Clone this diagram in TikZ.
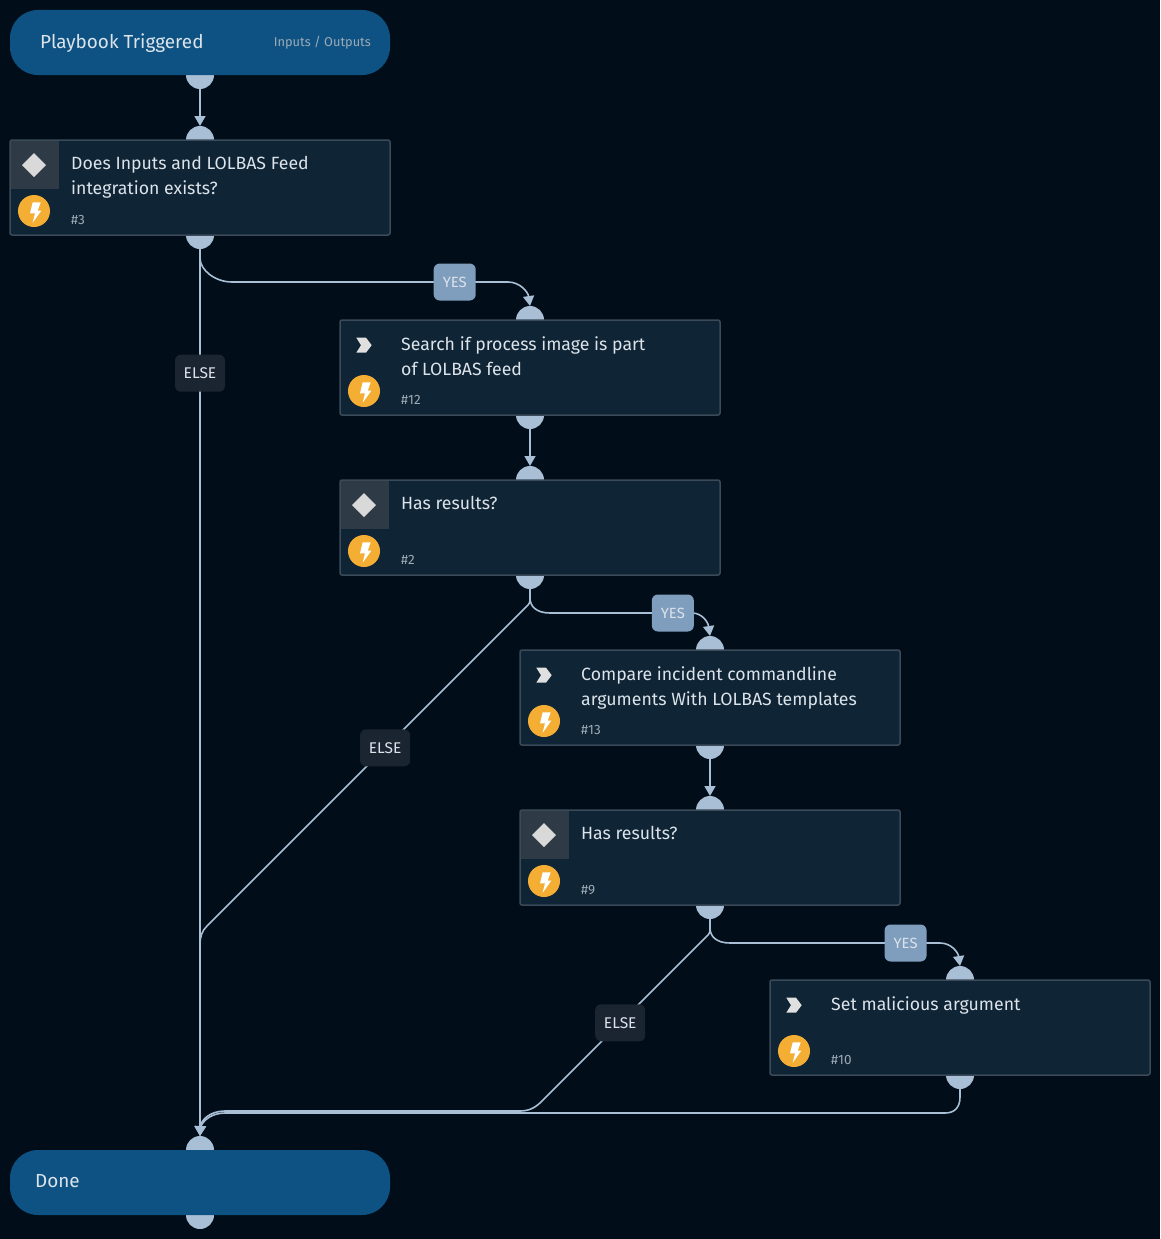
\documentclass[tikz,border=0pt]{standalone}
\usepackage{fontspec}
\setmainfont{Fira Sans}
\usetikzlibrary{arrows.meta, backgrounds}
\definecolor{canvas}{HTML}{010E19}
\definecolor{boxfill}{HTML}{0F2434}
\definecolor{boxedge}{HTML}{3A4A58}
\definecolor{headfill}{HTML}{0D5282}
\definecolor{wire}{HTML}{A9BFD6}
\definecolor{yesfill}{HTML}{7F9DBD}
\definecolor{elsefill}{HTML}{1B2431}
\definecolor{boltfill}{HTML}{F4AE33}
\definecolor{inktext}{HTML}{DCE3EA}
\definecolor{hashtext}{HTML}{9DAAB5}
\tikzstyle{line} = [draw=wire, line width=1.6pt, -{Triangle[width=11pt,length=10pt]}]
\tikzstyle{plainline} = [draw=wire, line width=1.6pt]
\tikzstyle{stepbox} = [draw=boxedge, line width=1.5pt, fill=boxfill, rounded corners=2pt, minimum width=380pt, minimum height=95pt, inner sep=0pt, outer sep=0pt, node distance=100pt]
\tikzstyle{headbox} = [fill=headfill, rounded corners=28pt, minimum width=380pt, minimum height=65pt, inner sep=0pt, outer sep=0pt, node distance=100pt]
\tikzstyle{port} = [circle, fill=wire, minimum size=28pt, inner sep=0pt, outer sep=0pt]
\tikzstyle{steptext} = [anchor=north west, align=left, inner sep=0pt, text=inktext, font=\fontsize{17.7}{25}\selectfont]
\tikzstyle{stepnum} = [anchor=base west, inner sep=0pt, text=hashtext, font=\fontsize{13.5}{15}\selectfont]
\tikzstyle{headtext} = [anchor=west, inner sep=0pt, text=inktext, font=\fontsize{18.9}{24}\selectfont]
\tikzstyle{yeslabel} = [fill=yesfill, text=inktext, rounded corners=6pt, minimum width=42pt, minimum height=37pt, inner sep=0pt, font=\fontsize{14.8}{16}\selectfont]
\tikzstyle{elselabel} = [fill=elsefill, text=inktext, rounded corners=6pt, minimum width=50pt, minimum height=37pt, inner sep=0pt, font=\fontsize{15.5}{16}\selectfont]
\tikzset{
  bolticon/.pic={
    \fill [boltfill] (24,71) circle (16);
    \fill [white] (22.7,62.3) -- (30.7,62.3) -- (27.7,70.7) -- (31.3,70.7) -- (22.7,82.7) -- (25,73.3) -- (20,73.3) -- cycle;
  },
  condicon/.pic={
    \fill [black!20!boxedge] (1,1) rectangle (49,49);
    \fill [black!15!white] (24,13) -- (36,25) -- (24,37) -- (12,25) -- cycle;
    \pic {bolticon};
  },
  taskicon/.pic={
    \fill [black!12!white] (16.3,17.7) -- (26,17.7) -- (31.7,25.2) -- (26,32.7) -- (16.3,32.7) -- (21,25.2) -- cycle;
    \pic {bolticon};
  }
}

\begin{document}
\begin{tikzpicture}[x=1pt, y=-1pt]
    \useasboundingbox (0,0) rectangle (1160,1239);

    % Create Blocks

    \node [headbox] (trigger) at (200,42.5) {};
    \node [stepbox, below of=trigger, yshift=-45pt] (step3) {};
    \node [stepbox, below of=step3, xshift=330pt, yshift=-80pt] (step12) {};
    \node [stepbox, below of=step12, yshift=-60pt] (step2) {};
    \node [stepbox, below of=step2, xshift=180pt, yshift=-70pt] (step13) {};
    \node [stepbox, below of=step13, yshift=-60pt] (step9) {};
    \node [stepbox, below of=step9, xshift=250pt, yshift=-70pt] (step10) {};
    \node [headbox, below of=step3, yshift=-895pt] (done) {};

    % Add Ports
    \begin{pgfonlayer}{background}
        \fill [canvas] (0,0) rectangle (1160,1239);
        \node [port] (trigger-out) at (trigger.south) {};
        \node [port] (step3-in) at (step3.north) {};
        \node [port] (step3-out) at (step3.south) {};
        \node [port] (step12-in) at (step12.north) {};
        \node [port] (step12-out) at (step12.south) {};
        \node [port] (step2-in) at (step2.north) {};
        \node [port] (step2-out) at (step2.south) {};
        \node [port] (step13-in) at (step13.north) {};
        \node [port] (step13-out) at (step13.south) {};
        \node [port] (step9-in) at (step9.north) {};
        \node [port] (step9-out) at (step9.south) {};
        \node [port] (step10-in) at (step10.north) {};
        \node [port] (step10-out) at (step10.south) {};
        \node [port] (done-in) at (done.north) {};
        \node [port] (done-out) at (done.south) {};
    \end{pgfonlayer}

    % Add Texts

    \node [headtext] (triggertext) at ([xshift=30pt, yshift=-0.5pt]trigger.west) {Playbook Triggered};
    \node [headtext, anchor=east, text=hashtext, font=\fontsize{12.8}{15}\selectfont] (triggerio) at ([xshift=-19pt]trigger.east) {Inputs / Outputs};
    \node [headtext] (donetext) at ([xshift=25pt, yshift=1pt]done.west) {Done};

    \pic at (step3.north west) {condicon};
    \node [steptext] (step3text) at ([xshift=61pt, yshift=-16.5pt]step3.north west) {Does Inputs and LOLBAS Feed\\integration exists?};
    \node [stepnum] (step3num) at ([xshift=61pt, yshift=-84pt]step3.north west) {\#3};

    \pic at (step12.north west) {taskicon};
    \node [steptext] (step12text) at ([xshift=61pt, yshift=-16.5pt]step12.north west) {Search if process image is part\\of LOLBAS feed};
    \node [stepnum] (step12num) at ([xshift=61pt, yshift=-84pt]step12.north west) {\#12};

    \pic at (step2.north west) {condicon};
    \node [steptext] (step2text) at ([xshift=61pt, yshift=-16.5pt]step2.north west) {Has results?};
    \node [stepnum] (step2num) at ([xshift=61pt, yshift=-84pt]step2.north west) {\#2};

    \pic at (step13.north west) {taskicon};
    \node [steptext] (step13text) at ([xshift=61pt, yshift=-16.5pt]step13.north west) {Compare incident commandline\\arguments With LOLBAS templates};
    \node [stepnum] (step13num) at ([xshift=61pt, yshift=-84pt]step13.north west) {\#13};

    \pic at (step9.north west) {condicon};
    \node [steptext] (step9text) at ([xshift=61pt, yshift=-16.5pt]step9.north west) {Has results?};
    \node [stepnum] (step9num) at ([xshift=61pt, yshift=-84pt]step9.north west) {\#9};

    \pic at (step10.north west) {taskicon};
    \node [steptext] (step10text) at ([xshift=61pt, yshift=-16.5pt]step10.north west) {Set malicious argument};
    \node [stepnum] (step10num) at ([xshift=61pt, yshift=-84pt]step10.north west) {\#10};

    % Add Arrows
    \path [line] (trigger-out.south) -- (step3-in.north);
    \path [line] (step12-out.south) -- (step2-in.north);
    \path [line] (step13-out.south) -- (step9-in.north);

    \path [line] (step3-out.south) -- (200,258) .. controls (200,270) and (215,282) .. (232,282) -- node [yeslabel, pos=.807] (yes1) {YES} (508,282) .. controls (520,282) and (528,292) .. (step12-in.north);
    \path [line] (step2-out.south) -- (530,598) .. controls (530,606) and (536,613) .. (550,613) -- node [yeslabel, pos=.865] (yes2) {YES} (692,613) .. controls (702,613) and (708,622) .. (step13-in.north);
    \path [line] (step9-out.south) -- (710,928) .. controls (710,936) and (716,943) .. (730,943) -- node [yeslabel, pos=.836] (yes3) {YES} (940,943) .. controls (951,943) and (958,952) .. (step10-in.north);

    \path [line] (step3-out.south) -- node [elselabel, pos=.14] (else1) {ELSE} (done-in.north);
    \path [line] (step2-out.south) -- (530,600) .. controls (530,604) and (527,606) .. (525,608) -- node [elselabel, pos=.44] (else2) {ELSE} (207,926) .. controls (202,931) and (200,936) .. (200,945) -- (done-in.north);
    \path [line] (step9-out.south) -- (710,930) .. controls (710,934) and (707,936) .. (705,938) -- node [elselabel, pos=.52] (else3) {ELSE} (542,1101) .. controls (536,1107) and (530,1111) .. (520,1111) -- (225,1111) .. controls (210,1111) and (201,1120) .. (done-in.north);
    \path [plainline] (step10-out.south) -- (960,1097) .. controls (960,1108) and (954,1113) .. (945,1113) -- (225,1113) .. controls (212,1113) and (203,1120) .. (200,1128);
\end{tikzpicture}
\end{document}
